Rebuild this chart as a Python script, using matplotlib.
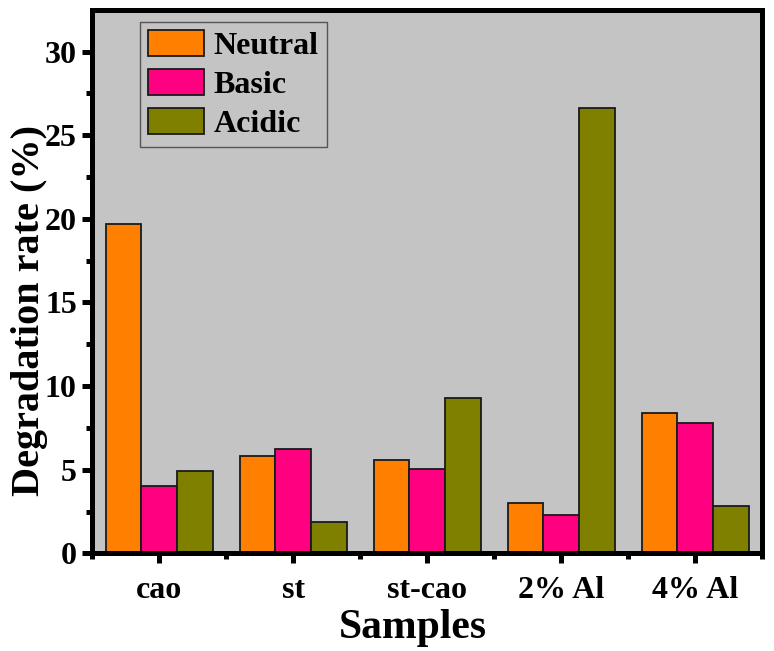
import matplotlib.pyplot as plt
import numpy as np

samples = ['cao', 'st', 'st-cao', '2% Al', '4% Al']
neutral = [19.7, 5.8, 5.6, 3.0, 8.4]
basic = [4.0, 6.25, 5.05, 2.3, 7.8]
acidic = [4.9, 1.9, 9.3, 26.65, 2.85]

plt.rcParams['font.family'] = 'Liberation Serif'
plt.rcParams['font.weight'] = 'bold'

fig = plt.figure(figsize=(7.74, 6.51), dpi=100)
ax = fig.add_axes([0.119, 0.150, 0.866, 0.835])
ax.set_facecolor('#c4c4c4')

x = np.arange(len(samples))
w = 0.8 / 3
ax.bar(x - w, neutral, w, color='#ff8000', edgecolor='#1a1a1a', linewidth=1.3, label='Neutral')
ax.bar(x, basic, w, color='#ff0080', edgecolor='#1a1a1a', linewidth=1.3, label='Basic')
ax.bar(x + w, acidic, w, color='#808000', edgecolor='#1a1a1a', linewidth=1.3, label='Acidic')

ax.set_xlim(-0.5, 4.5)
ax.set_ylim(0, 32.5)
ax.set_xticks(x)
ax.set_xticklabels(samples)
ax.set_xticks(np.arange(-0.5, 4.6, 1), minor=True)
ax.set_yticks(np.arange(0, 31, 5))
ax.set_yticks(np.arange(2.5, 32.5, 5), minor=True)

for s in ax.spines.values():
    s.set_linewidth(3.6)
ax.tick_params(which='major', direction='out', length=7, width=3.6, labelsize=23, pad=4)
ax.tick_params(which='minor', direction='out', length=4, width=3.6)
ax.tick_params(axis='x', which='major', pad=9)

ax.set_xlabel('Samples', fontsize=30, fontweight='bold')
ax.set_ylabel('Degradation rate (%)', fontsize=29, fontweight='bold')
ax.xaxis.set_label_coords(0.479, -0.102)
ax.yaxis.set_label_coords(-0.066, 0.447)

leg = ax.legend(loc='upper left', bbox_to_anchor=(0.072, 0.978), fontsize=23, fancybox=False,
                framealpha=1, facecolor='#c4c4c4', edgecolor='#555555',
                handlelength=1.75, handleheight=0.87, labelspacing=0.25,
                handletextpad=0.3, borderpad=0.25, borderaxespad=0)
leg.get_frame().set_linewidth(1.0)

fig.savefig('out.png', dpi=100)
